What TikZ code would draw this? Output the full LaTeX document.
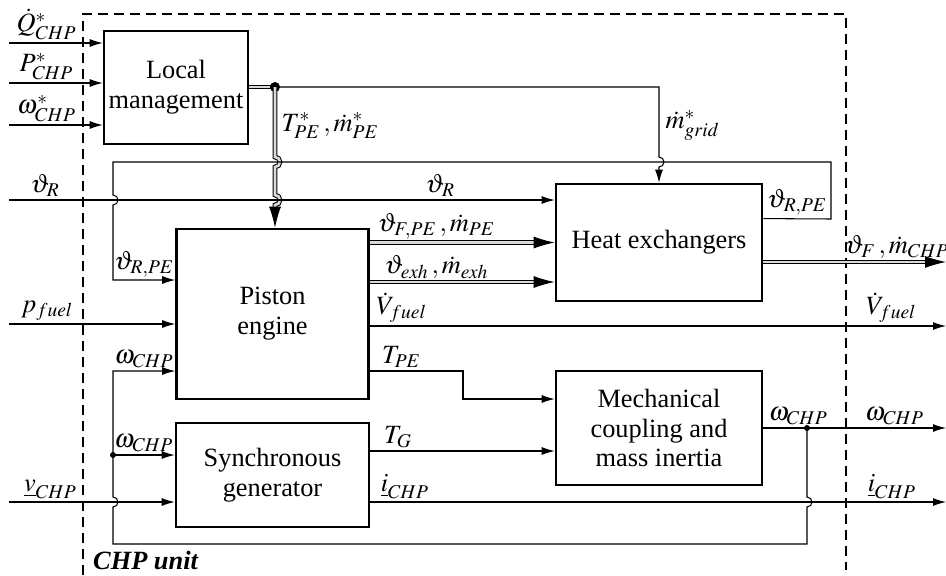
\documentclass[tikz,border=0pt]{standalone}
\usepackage{mathptmx}
\usepackage[no-math]{fontspec}
\setmainfont{Liberation Serif}
\usetikzlibrary{positioning,calc,arrows.meta}
\tikzstyle{block} = [draw, line width=1.5pt, align=center, inner sep=2pt]
\tikzstyle{edge} = [-{Latex[length=0.26cm,width=0.16cm]}, line width=0.6pt]
\tikzstyle{bus} = [double=black!15, double distance=1.5pt, line width=0.6pt]
\tikzstyle{busedge} = [bus, -{Latex[length=0.42cm,width=0.24cm]}]
\tikzstyle{lab} = [inner sep=1.5pt]
\tikzstyle{unitframe} = [line width=1.2pt, dash pattern=on 0.2cm off 0.12cm]

\begin{document}
\begin{tikzpicture}[x=0.02cm, y=-0.02cm]
\tikzstyle{every node}=[font=\fontsize{15}{17}\selectfont]
\useasboundingbox (0,0) rectangle (946,575);
	% CHP unit border
	\draw[unitframe] (83,575) -- (83,14) -- (846,14) -- (846,570);
	\node[anchor=base west, font=\fontsize{15}{17}\selectfont\bfseries\itshape] (unit) at (87,569) {CHP unit};

	\node[block, minimum width=2.88cm, minimum height=2.26cm] (lm) at (176,87.5) {Local\\management};
	\node[block, minimum width=3.84cm, minimum height=3.4cm] (pe) at (272.5,314) {Piston\\engine};
	\node[block, minimum width=4.12cm, minimum height=2.34cm] (he) at (659,242.5) {Heat exchangers};
	\node[block, minimum width=3.86cm, minimum height=2.08cm] (sg) at (272.5,475) {Synchronous\\generator};
	\node[block, minimum width=4.12cm, minimum height=2.28cm] (mc) at (659,428) {Mechanical\\coupling and\\mass inertia};

	\coordinate (qin) at (9,43);
	\coordinate (pin) at (9,83);
	\coordinate (win) at (9,125);
	\coordinate (tin) at (9,200);
	\coordinate (fin) at (9,324);
	\coordinate (vin) at (9,502);
	\coordinate (split) at (275,87);
	\coordinate (fout) at (946,262);
	\coordinate (vfout) at (946,326);
	\coordinate (wout) at (946,428);
	\coordinate (iout) at (946,502);
	\coordinate (wsplit) at (807,428);
	\coordinate (wfb) at (113,455);

	% set points
	\draw[edge] (qin) -- node[lab, above, pos=0.4] {$\dot{Q}^{*}_{CHP}$} (qin -| lm.west);
	\draw[edge] (pin) -- node[lab, above, pos=0.4] {$P^{*}_{CHP}$} (pin -| lm.west);
	\draw[edge] (win) -- node[lab, above, pos=0.4] {$\omega^{*}_{CHP}$} (win -| lm.west);
	\draw[bus] (lm.east |- split) -- (split);
	\fill (split) circle (0.1cm);
	\draw[edge] (split) -- (659,87) -- node[lab, right, xshift=2pt, pos=0.55] {$\dot{m}^{*}_{grid}$} (659,157)
		arc[start angle=90, end angle=-90, radius=0.1cm] -- (he.north);
	\draw[busedge] (split) -- node[lab, right, xshift=2pt, pos=0.55] {$T^{*}_{PE}\,,\dot{m}^{*}_{PE}$} (275,157)
		arc[start angle=90, end angle=-90, radius=0.1cm] -- (275,195)
		arc[start angle=90, end angle=-90, radius=0.1cm] -- (pe.north -| split);

	% return temperature
	\draw[edge] (tin) -- node[lab, above, pos=0.066] {$\vartheta_{R}$} node[lab, above, pos=0.79] {$\vartheta_{R}$} (he.west |- tin);
	\draw[edge] ($(he.north east)!0.3!(he.south east)$) -- node[lab, above, pos=0.5] {$\vartheta_{R,PE}$} (831,219)
		-- (831,162) -- (113,162) -- (113,195) arc[start angle=90, end angle=-90, radius=0.1cm]
		-- (113,280) -- node[lab, above, pos=0.5] {$\vartheta_{R,PE}$} (pe.west |- 0,280);

	% piston engine
	\draw[busedge] (pe.east |- he.west) -- node[lab, above, pos=0.36] {$\vartheta_{F,PE}\,,\dot{m}_{PE}$} (he.west);
	\draw[busedge] (pe.east |- 0,282) -- node[lab, above, pos=0.36] {$\vartheta_{exh}\,,\dot{m}_{exh}$} (he.west |- 0,282);
	\draw[busedge] (he.east |- fout) -- node[lab, above, pos=0.73] {$\vartheta_{F}\,,\dot{m}_{CHP}$} (fout);
	\draw[edge] (fin) -- node[lab, above, pos=0.23] {$p_{fuel}$} (pe.west |- fin);
	\draw[edge] (pe.east |- vfout) -- node[lab, above right, pos=0, xshift=2pt] {$\dot{V}_{fuel}$} node[lab, above, pos=0.905] {$\dot{V}_{fuel}$} (vfout);
	\draw[edge] (pe.east |- 0,371) -- node[lab, above, pos=0.34] {$T_{PE}$} (463,371) -- (463,399) -- (mc.west |- 0,399);

	% generator and shaft
	\draw[edge] (sg.east |- 0,451) -- node[lab, above, pos=0.15] {$T_{G}$} (mc.west |- 0,451);
	\draw[edge] (sg.east |- iout) -- node[lab, above, pos=0.06] {$\underline{i}_{CHP}$} node[lab, above, pos=0.906] {$\underline{i}_{CHP}$} (iout);
	\draw[edge] (vin) -- node[lab, above, pos=0.25] {$\underline{v}_{CHP}$} (sg.west |- vin);
	\draw[edge] (mc.east) -- node[lab, above, pos=0.8] {$\omega_{CHP}$} (wsplit) -- node[lab, above, pos=0.63] {$\omega_{CHP}$} (wout);
	\fill (wsplit) circle (0.06cm);
	\draw[edge] (wsplit) -- (807,497) arc[start angle=90, end angle=-90, radius=0.1cm] -- (807,544) -- (113,544)
		-- (113,507) arc[start angle=-90, end angle=90, radius=0.1cm] -- (wfb) -- (113,371)
		-- node[lab, above, pos=0.5] {$\omega_{CHP}$} (pe.west |- 0,371);
	\fill (wfb) circle (0.06cm);
	\draw[edge] (wfb) -- node[lab, above, pos=0.5] {$\omega_{CHP}$} (sg.west |- wfb);
\end{tikzpicture}
\end{document}
